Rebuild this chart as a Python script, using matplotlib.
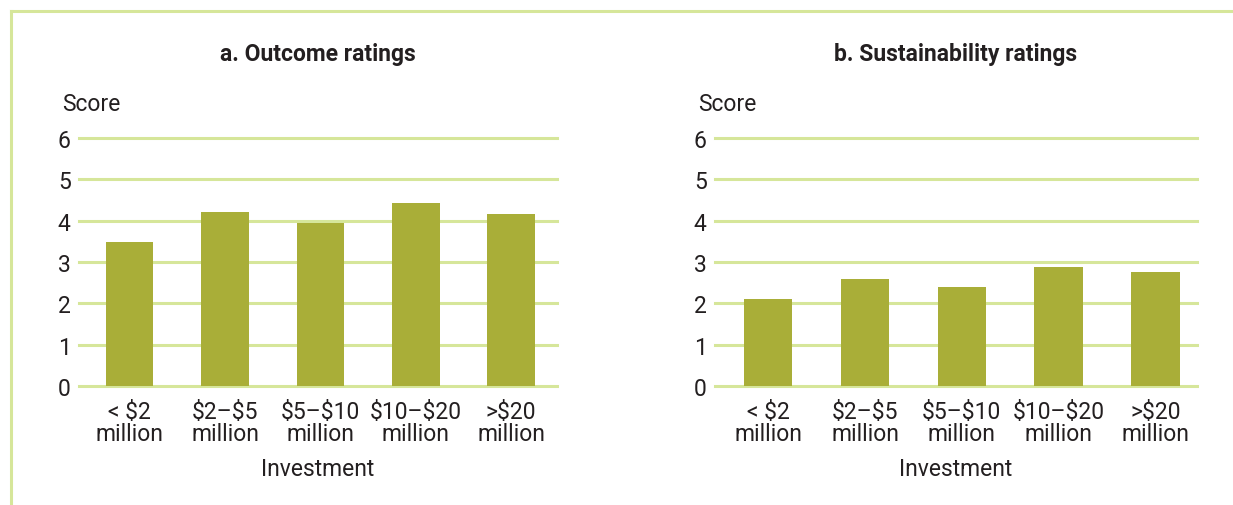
import matplotlib
matplotlib.use("Agg")
import matplotlib.pyplot as plt
from matplotlib.lines import Line2D

categories = ["< \\$2\nmillion", "\\$2\u2013\\$5\nmillion", "\\$5\u2013\\$10\nmillion", "\\$10\u2013\\$20\nmillion", ">\\$20\nmillion"]
outcome_scores = [3.49, 4.21, 3.94, 4.43, 4.16]
sustainability_scores = [2.11, 2.59, 2.40, 2.88, 2.76]
yticks = [0, 1, 2, 3, 4, 5, 6]
titles = ["a. Outcome ratings", "b. Sustainability ratings"]

plt.rcParams['font.family'] = ['Roboto', 'DejaVu Sans']
BAR = "#a9ae38"
GRID = "#d6e69a"
TEXT = "#231f20"
FS = 16.5

fig = plt.figure(figsize=(12.33, 5.06), dpi=100)

# frame lines (top and left)
fig.add_artist(Line2D([11/1233, 1.0], [1 - 12/506, 1 - 12/506], color=GRID, lw=2.2, transform=fig.transFigure))
fig.add_artist(Line2D([11/1233, 11/1233], [0, 1 - 12/506], color=GRID, lw=2.2, transform=fig.transFigure))

panels = [
    (outcome_scores, [79/1233, 1 - 387/506, (557-79)/1233, (387-139)/506], (-0.53, 4.48)),
    (sustainability_scores, [715/1233, 1 - 387/506, (1197-715)/1233, (387-139)/506], (-0.55, 4.43)),
]

for (vals, rect, xl), title in zip(panels, titles):
    ax = fig.add_axes(rect)
    x = list(range(len(categories)))
    for t in yticks:
        ax.axhline(t, color=GRID, lw=2.2, zorder=1, clip_on=False)
    ax.bar(x, vals, width=0.5, color=BAR, zorder=2)
    ax.set_xlim(*xl)
    ax.set_ylim(0, 6)
    ax.set_yticks(yticks)
    ax.set_yticklabels([str(t) for t in yticks], fontsize=FS, color=TEXT)
    ax.set_xticks(x)
    ax.set_xticklabels(categories, fontsize=FS, color=TEXT, linespacing=0.95)
    ax.tick_params(axis='both', length=0)
    ax.tick_params(axis='y', pad=6)
    ax.tick_params(axis='x', pad=10)
    for s in ax.spines.values():
        s.set_visible(False)
    ax.set_xlabel("Investment", fontsize=FS, color=TEXT, labelpad=9)
    ax.text(-0.035, 1.14, "Score", transform=ax.transAxes, fontsize=FS, color=TEXT, ha='left', va='center')
    ax.set_title(title, fontsize=FS, fontweight='bold', color=TEXT, pad=56)

fig.savefig("out.png", dpi=100, facecolor="white")
